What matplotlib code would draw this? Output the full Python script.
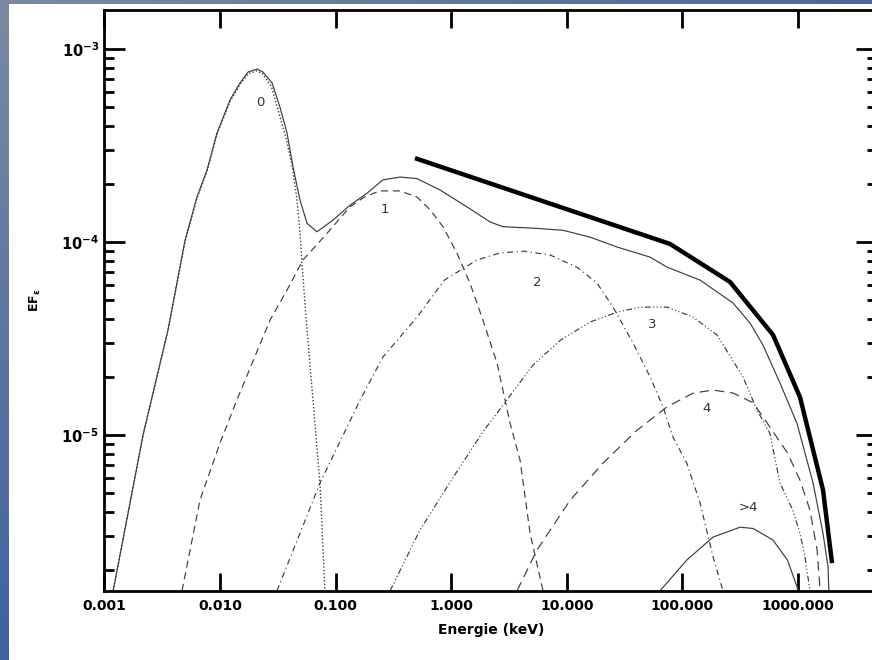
import numpy as np
import matplotlib
matplotlib.use("Agg")
import matplotlib.pyplot as plt
from matplotlib.colors import LinearSegmentedColormap
from matplotlib.ticker import FixedLocator, LogLocator, NullFormatter

################ spectrum components (E in keV, E*F_E) ################

e_tot = [1.19e-3, 2.16e-3, 3.55e-3, 4.98e-3, 6.32e-3, 7.72e-3, 9.42e-3, 0.0122, 0.0149,
         0.0175, 0.0209, 0.0235, 0.0282, 0.0330, 0.0380, 0.0428, 0.0492, 0.0566, 0.0690,
         0.0951, 0.133, 0.187, 0.257, 0.361, 0.506, 0.800, 1.37, 2.17, 2.81, 5.11, 9.27,
         15.9, 27.2, 52.5, 73.6, 142, 274, 385, 498, 698, 979, 1349, 1644, 1818, 1850]
f_tot = [1.56e-6, 1.0e-5, 3.5e-5, 1.02e-4, 1.71e-4, 2.36e-4, 3.67e-4, 5.44e-4, 6.67e-4,
         7.60e-4, 7.87e-4, 7.60e-4, 6.67e-4, 5.00e-4, 3.67e-4, 2.45e-4, 1.65e-4, 1.25e-4, 1.13e-4,
         1.30e-4, 1.55e-4, 1.79e-4, 2.10e-4, 2.17e-4, 2.13e-4, 1.86e-4, 1.52e-4, 1.27e-4, 1.20e-4,
         1.18e-4, 1.15e-4, 1.06e-4, 9.42e-5, 8.35e-5, 7.41e-5, 6.35e-5, 4.83e-5, 3.80e-5, 2.92e-5,
         1.86e-5, 1.15e-5, 5.64e-6, 3.10e-6, 2.07e-6, 1.50e-6]

e_0 = [1.19e-3, 2.16e-3, 3.55e-3, 4.98e-3, 6.32e-3, 7.72e-3, 9.42e-3, 0.0122, 0.0149,
       0.0175, 0.0209, 0.0235, 0.0278, 0.0318, 0.0375, 0.0420, 0.0464, 0.0492, 0.0522,
       0.0566, 0.0637, 0.0732, 0.0809]
f_0 = [1.56e-6, 1.0e-5, 3.5e-5, 1.0e-4, 1.69e-4, 2.33e-4, 3.62e-4, 5.35e-4, 6.55e-4,
       7.45e-4, 7.70e-4, 7.40e-4, 6.40e-4, 4.83e-4, 3.40e-4, 2.50e-4, 1.65e-4, 1.11e-4, 6.59e-5,
       3.50e-5, 1.52e-5, 5.64e-6, 1.56e-6]

e_1 = [4.69e-3, 6.71e-3, 0.0100, 0.0140, 0.0271, 0.0380, 0.0522, 0.0844, 0.133, 0.180,
       0.242, 0.361, 0.506, 0.656, 0.849, 1.12, 1.45, 1.88, 2.49, 3.23, 3.94, 4.81, 6.22]
f_1 = [1.56e-6, 4.60e-6, 9.10e-6, 1.52e-5, 3.94e-5, 5.64e-5, 8.07e-5, 1.11e-4, 1.52e-4, 1.72e-4,
       1.84e-4, 1.84e-4, 1.71e-4, 1.47e-4, 1.20e-4, 8.77e-5, 6.14e-5, 3.94e-5, 2.36e-5, 1.15e-5,
       7.41e-6, 3.10e-6, 1.56e-6]

e_2 = [0.0311, 0.0492, 0.0732, 0.163, 0.257, 0.506, 0.873, 1.67, 2.64, 4.18, 7.16, 12.2,
       18.2, 25.1, 37.4, 52.5, 67.9, 82.8, 109, 142, 184, 224]
f_2 = [1.56e-6, 3.10e-6, 5.64e-6, 1.52e-5, 2.54e-5, 4.08e-5, 6.35e-5, 8.07e-5, 8.77e-5, 8.97e-5,
       8.57e-5, 7.41e-5, 6.14e-5, 4.60e-5, 3.00e-5, 2.00e-5, 1.40e-5, 9.77e-6, 7.16e-6, 4.45e-6,
       2.34e-6, 1.56e-6]

e_3 = [0.296, 0.537, 0.977, 1.88, 3.03, 5.11, 8.81, 15.9, 27.2, 43.0, 73.6, 124, 199, 334,
       441, 571, 698, 902, 1038, 1148, 1268]
f_3 = [1.56e-6, 3.22e-6, 5.70e-6, 1.04e-5, 1.52e-5, 2.31e-5, 3.10e-5, 3.85e-5, 4.33e-5, 4.60e-5,
       4.60e-5, 4.08e-5, 3.30e-5, 2.00e-5, 1.35e-5, 1.02e-5, 5.64e-6, 4.08e-6, 3.10e-6, 2.34e-6,
       1.56e-6]

e_4 = [3.71, 5.52, 10.7, 20.6, 40.5, 73.6, 124, 184, 274, 409, 571, 811, 1038, 1268, 1462, 1553]
f_4 = [1.56e-6, 2.54e-6, 4.60e-6, 7.16e-6, 1.06e-5, 1.40e-5, 1.65e-5, 1.71e-5, 1.65e-5, 1.47e-5,
       1.10e-5, 8.07e-6, 5.85e-6, 4.08e-6, 2.54e-6, 1.56e-6]

e_5 = [64.0, 109, 184, 315, 409, 606, 811, 1007]
f_5 = [1.56e-6, 2.25e-6, 2.96e-6, 3.33e-6, 3.28e-6, 2.86e-6, 2.25e-6, 1.56e-6]

# hand-drawn envelope
e_env = [0.486, 78.2, 258, 608, 1040, 1645, 1968]
f_env = [2.72e-4, 9.77e-5, 6.21e-5, 3.30e-5, 1.57e-5, 5.19e-6, 2.17e-6]

comp_labels = ['0', '1', '2', '3', '4', '>4']
label_e = [0.0222, 0.267, 5.51, 54.5, 163, 369]
label_f = [5.31e-4, 1.48e-4, 6.14e-5, 3.72e-5, 1.38e-5, 4.19e-6]

xticks = [0.001, 0.01, 0.1, 1, 10, 100, 1000]
xticklabels = ['0.001', '0.010', '0.100', '1.000', '10.000', '100.000', '1000.000']
yticks = [1e-5, 1e-4, 1e-3]
yticklabels = [r'$\mathbf{10^{-5}}$', r'$\mathbf{10^{-4}}$', r'$\mathbf{10^{-3}}$']

####################### figure ##########################

fig = plt.figure(figsize=(8.72, 6.6), dpi=100)
fig.patch.set_facecolor('white')

# blue frame strips (left and top)
grad = np.linspace(0, 1, 256).reshape(-1, 1)
left = fig.add_axes([0, 0, 8 / 872, 1])
left.imshow(grad, aspect='auto', extent=[0, 1, 0, 1],
            cmap=LinearSegmentedColormap.from_list('l', ['#7b8aa1', '#3e62a0']))
left.axis('off')
top = fig.add_axes([0, 1 - 4 / 660, 1, 4 / 660])
top.imshow(grad.T, aspect='auto', extent=[0, 1, 0, 1],
           cmap=LinearSegmentedColormap.from_list('t', ['#7b8aa1', '#4a6898']))
top.axis('off')

ax = fig.add_axes([104.4 / 872, 1 - 591 / 660, (877 - 104.4) / 872, (591 - 10) / 660])
ax.set_xscale('log')
ax.set_yscale('log')
ax.set_xlim(1e-3, 10 ** 3.683)
ax.set_ylim(10 ** -5.808, 10 ** -2.798)

lc = '#3c3c3c'
lw = 0.85
ax.plot(e_tot, f_tot, color=lc, lw=lw)
ax.plot(e_0, f_0, color=lc, lw=1.0, linestyle=(0, (1, 1.5)))
ax.plot(e_1, f_1, color=lc, lw=lw, linestyle=(0, (6, 4)))
ax.plot(e_2, f_2, color=lc, lw=lw, linestyle=(0, (5, 3, 1, 3)))
ax.plot(e_3, f_3, color=lc, lw=lw, linestyle=(0, (5, 2, 1, 2, 1, 2, 1, 2)))
ax.plot(e_4, f_4, color=lc, lw=lw, linestyle=(0, (8, 5)))
ax.plot(e_5, f_5, color=lc, lw=lw)
ax.plot(e_env, f_env, color='black', lw=3.2, solid_capstyle='butt')

for t, xe, yf in zip(comp_labels, label_e, label_f):
    ax.text(xe, yf, t, fontsize=9.5, color='#333333', ha='center', va='center')

ax.xaxis.set_major_locator(FixedLocator(xticks))
ax.set_xticklabels(xticklabels, fontsize=10, fontweight='bold')
ax.xaxis.set_minor_locator(FixedLocator([]))
ax.yaxis.set_major_locator(FixedLocator(yticks))
ax.set_yticklabels(yticklabels, fontsize=10.5)
ax.yaxis.set_minor_locator(LogLocator(base=10, subs=np.arange(2, 10)))
ax.yaxis.set_minor_formatter(NullFormatter())

ax.tick_params(which='major', direction='in', length=15, width=2, top=True, right=True, pad=6)
ax.tick_params(axis='x', which='major', length=13)
ax.tick_params(axis='y', which='minor', direction='in', length=7, width=2, right=True)
ax.tick_params(axis='y', which='major', pad=4)
for s in ax.spines.values():
    s.set_linewidth(2)

ax.set_xlabel('Energie (keV)', fontsize=10, fontweight='bold', labelpad=7)
fig.text(35 / 872, 1 - 300 / 660, r'$\mathbf{EF_{\epsilon}}$', rotation=90,
         fontsize=9, ha='center', va='center')

fig.savefig('out.png', dpi=100)
